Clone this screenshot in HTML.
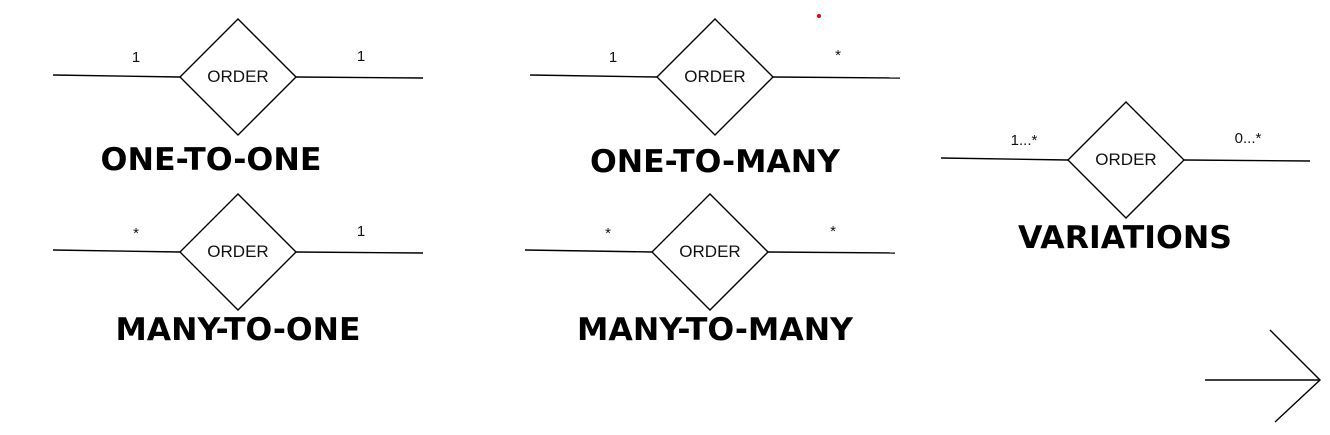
<!DOCTYPE html>
<html><head><meta charset="utf-8"><style>
html,body{margin:0;padding:0;background:#fff;width:1330px;height:435px;overflow:hidden}
svg{display:block}
.t{font-family:"DejaVu Sans",sans-serif;font-weight:bold;font-size:31px;text-anchor:middle;fill:#000}
.o{font-family:"Liberation Sans",sans-serif;font-size:17px;text-anchor:middle;fill:#111}
.c{font-family:"Liberation Sans",sans-serif;font-size:15px;text-anchor:middle;fill:#111}
line,polygon,polyline{stroke:#000;stroke-width:1.4;fill:none}
</style></head><body>
<svg width="1330" height="435">
<g>
<line x1="53" y1="75" x2="180" y2="77"/><line x1="296" y1="77" x2="423" y2="78"/>
<polygon points="238,19 296,77 238,135 180,77"/>
<text class="o" x="238" y="82">ORDER</text>
<text class="c" x="136" y="62">1</text><text class="c" x="361" y="61">1</text>
<text class="t" x="211" y="170" textLength="221" lengthAdjust="spacingAndGlyphs">ONE-TO-ONE</text>
</g>
<g>
<line x1="530" y1="75" x2="657" y2="77"/><line x1="773" y1="77" x2="900" y2="78"/>
<polygon points="715,19 773,77 715,135 657,77"/>
<text class="o" x="715" y="82">ORDER</text>
<text class="c" x="613" y="62">1</text><text class="c" x="838" y="60">*</text>
<text class="t" x="715" y="172" textLength="250" lengthAdjust="spacingAndGlyphs">ONE-TO-MANY</text>
</g>
<g>
<line x1="941" y1="158" x2="1068" y2="160"/><line x1="1184" y1="160" x2="1310" y2="161"/>
<polygon points="1126,102 1184,160 1126,218 1068,160"/>
<text class="o" x="1126" y="165">ORDER</text>
<text class="c" x="1024" y="145">1...*</text><text class="c" x="1248" y="143">0...*</text>
<text class="t" x="1125" y="248" textLength="214" lengthAdjust="spacingAndGlyphs">VARIATIONS</text>
</g>
<g>
<line x1="53" y1="250" x2="180" y2="252"/><line x1="296" y1="252" x2="423" y2="253"/>
<polygon points="238,194 296,252 238,310 180,252"/>
<text class="o" x="238" y="257">ORDER</text>
<text class="c" x="136" y="238">*</text><text class="c" x="361" y="236">1</text>
<text class="t" x="238" y="340" textLength="245" lengthAdjust="spacingAndGlyphs">MANY-TO-ONE</text>
</g>
<g>
<line x1="525" y1="250" x2="652" y2="252"/><line x1="768" y1="252" x2="895" y2="253"/>
<polygon points="710,194 768,252 710,310 652,252"/>
<text class="o" x="710" y="257">ORDER</text>
<text class="c" x="608" y="238">*</text><text class="c" x="833" y="236">*</text>
<text class="t" x="715" y="340" textLength="276" lengthAdjust="spacingAndGlyphs">MANY-TO-MANY</text>
</g>
<circle cx="819" cy="16" r="2" fill="#e00"/>
<g>
<line x1="1205" y1="380" x2="1320" y2="380"/>
<polyline points="1270,330 1320,380 1275,422"/>
</g>
</svg>
</body></html>
